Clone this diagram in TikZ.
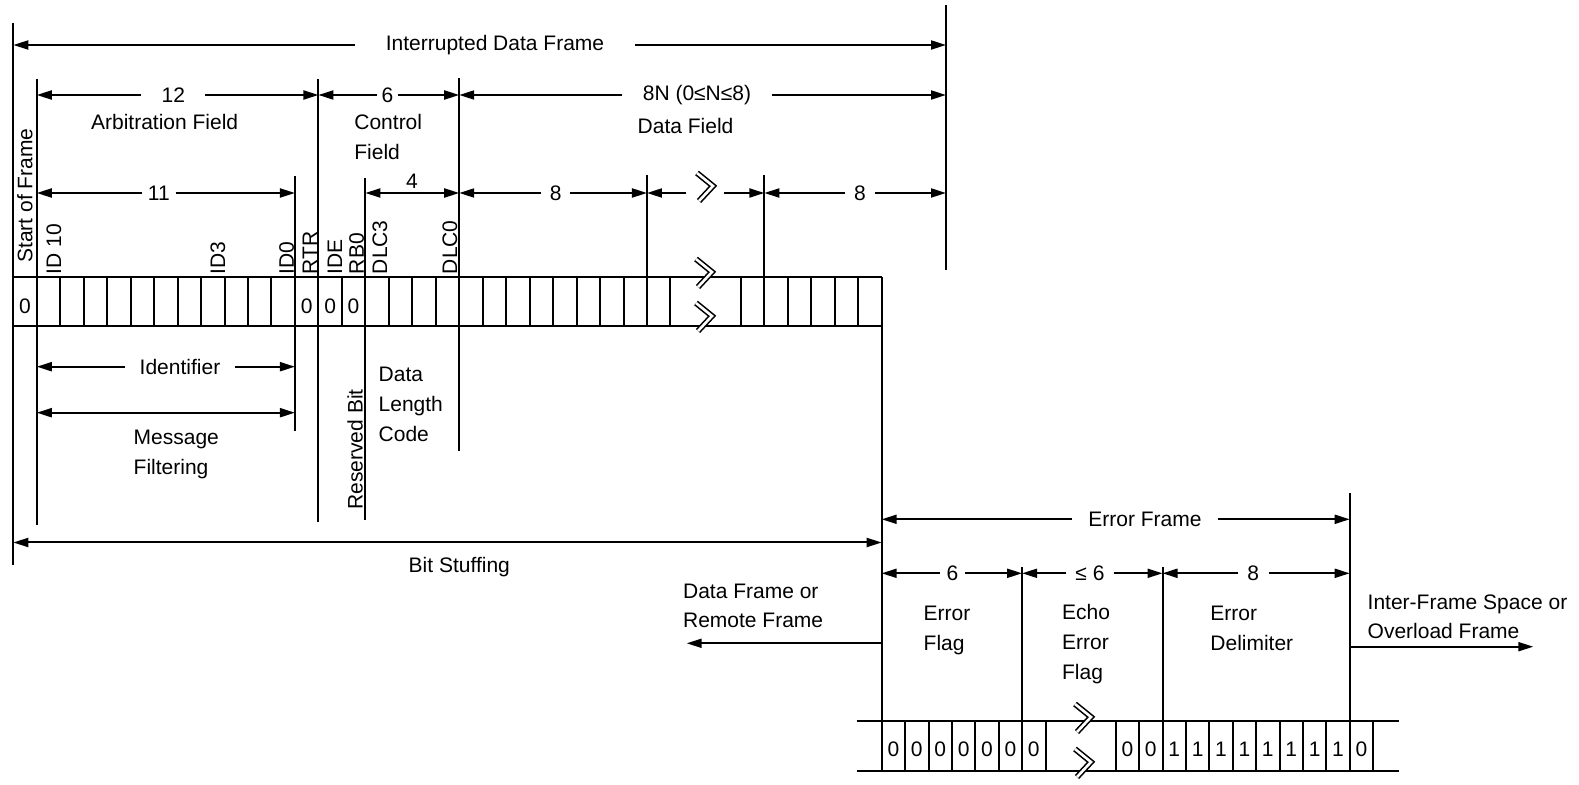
\documentclass[tikz,border=0pt]{standalone}
\usepackage{fontspec}
\setmainfont{Liberation Sans}
\usetikzlibrary{arrows.meta, positioning, calc}

\tikzset{
    rule/.style={line width=1pt},
    dimarrow/.style={line width=1pt, -{Triangle[length=7.5pt, width=4.5pt]}},
    dimboth/.style={line width=1pt, {Triangle[length=7.5pt, width=4.5pt]}-{Triangle[length=7.5pt, width=4.5pt]}},
    dimtext/.style={inner ysep=0pt},
    fieldtext/.style={anchor=base west, align=left, inner sep=0pt},
    bitname/.style={rotate=90, anchor=west, inner sep=0pt},
    bitval/.style={inner sep=0pt},
    breakmark/.style={double, double distance=1.3pt, line width=0.8pt, line join=miter}
}

\begin{document}
\begin{tikzpicture}[x=0.5pt, y=-0.5pt, font=\fontsize{10.5}{15}\selectfont]
    \useasboundingbox (0,0) rectangle (1579,785);

    % Cell boundaries of both bit rows and the frame ends
    \foreach \j in {0,...,37} {
        \coordinate (b\j) at (13.3+23.47*\j, 0);
    }
    \foreach \e in {0,...,21} {
        \coordinate (e\e) at (881.7+23.4*\e, 0);
    }
    \coordinate (bR) at (946, 0);
    \coordinate (rowtop) at (0, 277.5);
    \coordinate (rowbot) at (0, 326.5);
    \coordinate (errtop) at (0, 720.7);
    \coordinate (errbot) at (0, 770.7);

    % Data frame bit row (interrupted after 37 bits)
    \draw[rule] (b0 |- rowtop) -- (b37 |- rowtop);
    \draw[rule] (b0 |- rowbot) -- (b37 |- rowbot);
    \foreach \j in {0,...,28} { \draw[rule] (b\j |- rowtop) -- (b\j |- rowbot); }
    \foreach \j in {31,...,37} { \draw[rule] (b\j |- rowtop) -- (b\j |- rowbot); }

    % Error frame bit row
    \draw[rule] (856.7,720.7) -- (1399.3,720.7);
    \draw[rule] (856.7,770.7) -- (1399.3,770.7);
    \foreach \e in {0,...,7} { \draw[rule] (e\e |- errtop) -- (e\e |- errbot); }
    \foreach \e in {10,...,21} { \draw[rule] (e\e |- errtop) -- (e\e |- errbot); }

    % Field boundary lines
    \foreach \c/\top/\bot in {b0/23/565, b1/79/525, b12/176/431, b13/79/522,
                              b15/178/520, b19/78/451, b27/175/277.5, b32/175/277.5,
                              bR/5/270, b37/277.5/720.7, e6/567/720.7, e12/567/720.7,
                              e20/493/720.7} {
        \draw[rule] (\c |- 0,\top) -- (\c |- 0,\bot);
    }

    % Break marks
    \foreach \x/\y in {704/273, 704/317, 705/187, 1083/718, 1083/763} {
        \draw[breakmark, shift={(\x,\y)}] (-8,-14) -- (8,-1) -- (-6,14);
    }

    % Bit names above the data frame row
    \foreach \lab/\x/\y [count=\i] in {Start of Frame/25/263, ID 10/54/274.5, ID3/218/274.5,
                                       ID0/286.7/274.5, RTR/310/275, IDE/335/274.5,
                                       RB0/356.7/274.5, DLC3/380/274.5, DLC0/450/274.5} {
        \node[bitname] (name\i) at (\x,\y) {\lab};
    }
    \node[bitname] (resbit) at (355,510) {Reserved Bit};

    % Bit values
    \foreach \j in {0,12,13,14} {
        \node[bitval] (v\j) at (25+23.47*\j, 306.5) {0};
    }
    \foreach \e/\v in {0/0,1/0,2/0,3/0,4/0,5/0,6/0,10/0,11/0,12/1,13/1,
                       14/1,15/1,16/1,17/1,18/1,19/1,20/0} {
        \node[bitval] (w\e) at (893.4+23.4*\e, 749) {\v};
    }

    % Dimensions of the data frame
    \node[dimtext, inner xsep=15pt] (idf) at (495,45) {Interrupted Data Frame};
    \draw[dimarrow] (idf.west) -- (idf -| b0);
    \draw[dimarrow] (idf.east) -- (idf -| bR);

    \node[dimtext, inner xsep=10pt] (n12) at (173.3,95) {12};
    \draw[dimarrow] (n12.west) -- (n12 -| b1);
    \draw[dimarrow] (n12.east) -- (n12 -| b13);
    \node[dimtext, inner xsep=2pt] (n6) at (387.5,95) {6};
    \draw[dimarrow] (n6.west) -- (n6 -| b13);
    \draw[dimarrow] (n6.east) -- (n6 -| b19);
    \node[dimtext, inner xsep=10pt] (n8N) at (697,95) {8N (0≤N≤8)};
    \draw[dimarrow] (n8N.west) -- (n8N -| b19);
    \draw[dimarrow] (n8N.east) -- (n8N -| bR);

    \node[dimtext, inner xsep=2.7pt] (n11) at (158.8,193) {11};
    \draw[dimarrow] (n11.west) -- (n11 -| b1);
    \draw[dimarrow] (n11.east) -- (n11 -| b12);
    \node[dimtext] (n4) at (412,181.7) {4};
    \draw[dimboth] (b15 |- n11) -- (b19 |- n11);
    \node[dimtext, inner xsep=4.2pt] (n8a) at (555.8,193) {8};
    \draw[dimarrow] (n8a.west) -- (n8a -| b19);
    \draw[dimarrow] (n8a.east) -- (n8a -| b27);
    \node[inner sep=0pt, minimum width=18.3pt] (gap) at (705,193) {};
    \draw[dimarrow] (gap.west) -- (gap -| b27);
    \draw[dimarrow] (gap.east) -- (gap -| b32);
    \node[dimtext, inner xsep=4.5pt] (n8b) at (860,193) {8};
    \draw[dimarrow] (n8b.west) -- (n8b -| b32);
    \draw[dimarrow] (n8b.east) -- (n8b -| bR);

    \node[dimtext, inner xsep=7.4pt] (nid) at (180,366.7) {Identifier};
    \draw[dimarrow] (nid.west) -- (nid -| b1);
    \draw[dimarrow] (nid.east) -- (nid -| b12);
    \coordinate (mf) at (0,412.7);
    \draw[dimboth] (b1 |- mf) -- (b12 |- mf);
    \coordinate (bs) at (0,542.5);
    \draw[dimboth] (b0 |- bs) -- (b37 |- bs);
    \node[fieldtext] (bstxt) at (408.3,573) {Bit Stuffing};

    % Field names (anchored at the baseline of their last line)
    \node[fieldtext] (arb) at (90.7,129.3) {Arbitration Field};
    \node[fieldtext] (ctrl) at (354,160) {Control\\Field};
    \node[fieldtext] (data) at (637.3,134) {Data Field};
    \node[fieldtext] (dlc) at (378.3,441.7) {Data\\Length\\Code};
    \node[fieldtext] (msg) at (133.3,475) {Message\\Filtering};

    % Dimensions of the error frame
    \node[dimtext, inner xsep=8pt] (nef) at (1145,519.3) {Error Frame};
    \draw[dimarrow] (nef.west) -- (nef -| b37);
    \draw[dimarrow] (nef.east) -- (nef -| e20);
    \node[dimtext, inner xsep=3.3pt] (ne6) at (952.5,573.3) {6};
    \draw[dimarrow] (ne6.west) -- (ne6 -| e0);
    \draw[dimarrow] (ne6.east) -- (ne6 -| e6);
    \node[dimtext, inner xsep=4.4pt] (nle) at (1090,573.3) {≤ 6};
    \draw[dimarrow] (nle.west) -- (nle -| e6);
    \draw[dimarrow] (nle.east) -- (nle -| e12);
    \node[dimtext, inner xsep=4.5pt] (ne8) at (1253.3,573.3) {8};
    \draw[dimarrow] (ne8.west) -- (ne8 -| e12);
    \draw[dimarrow] (ne8.east) -- (ne8 -| e20);

    \node[fieldtext] (eflag) at (923.3,650) {Error\\Flag};
    \node[fieldtext] (echo) at (1061.7,679.3) {Echo\\Error\\Flag};
    \node[fieldtext] (edelim) at (1210,650) {Error\\Delimiter};

    % Neighbouring frames
    \coordinate (toprev) at (686.7,643.3);
    \draw[dimarrow] (toprev -| b37) -- (toprev);
    \node[fieldtext, font=\fontsize{10.5}{14.7}\selectfont] (prev) at (682.7,627.7) {Data Frame or\\Remote Frame};
    \coordinate (tonext) at (1533.3,646.7);
    \draw[dimarrow] (tonext -| e20) -- (tonext);
    \node[fieldtext, font=\fontsize{10.5}{14.2}\selectfont] (next) at (1367.3,638.3) {Inter-Frame Space or\\Overload Frame};
\end{tikzpicture}
\end{document}
